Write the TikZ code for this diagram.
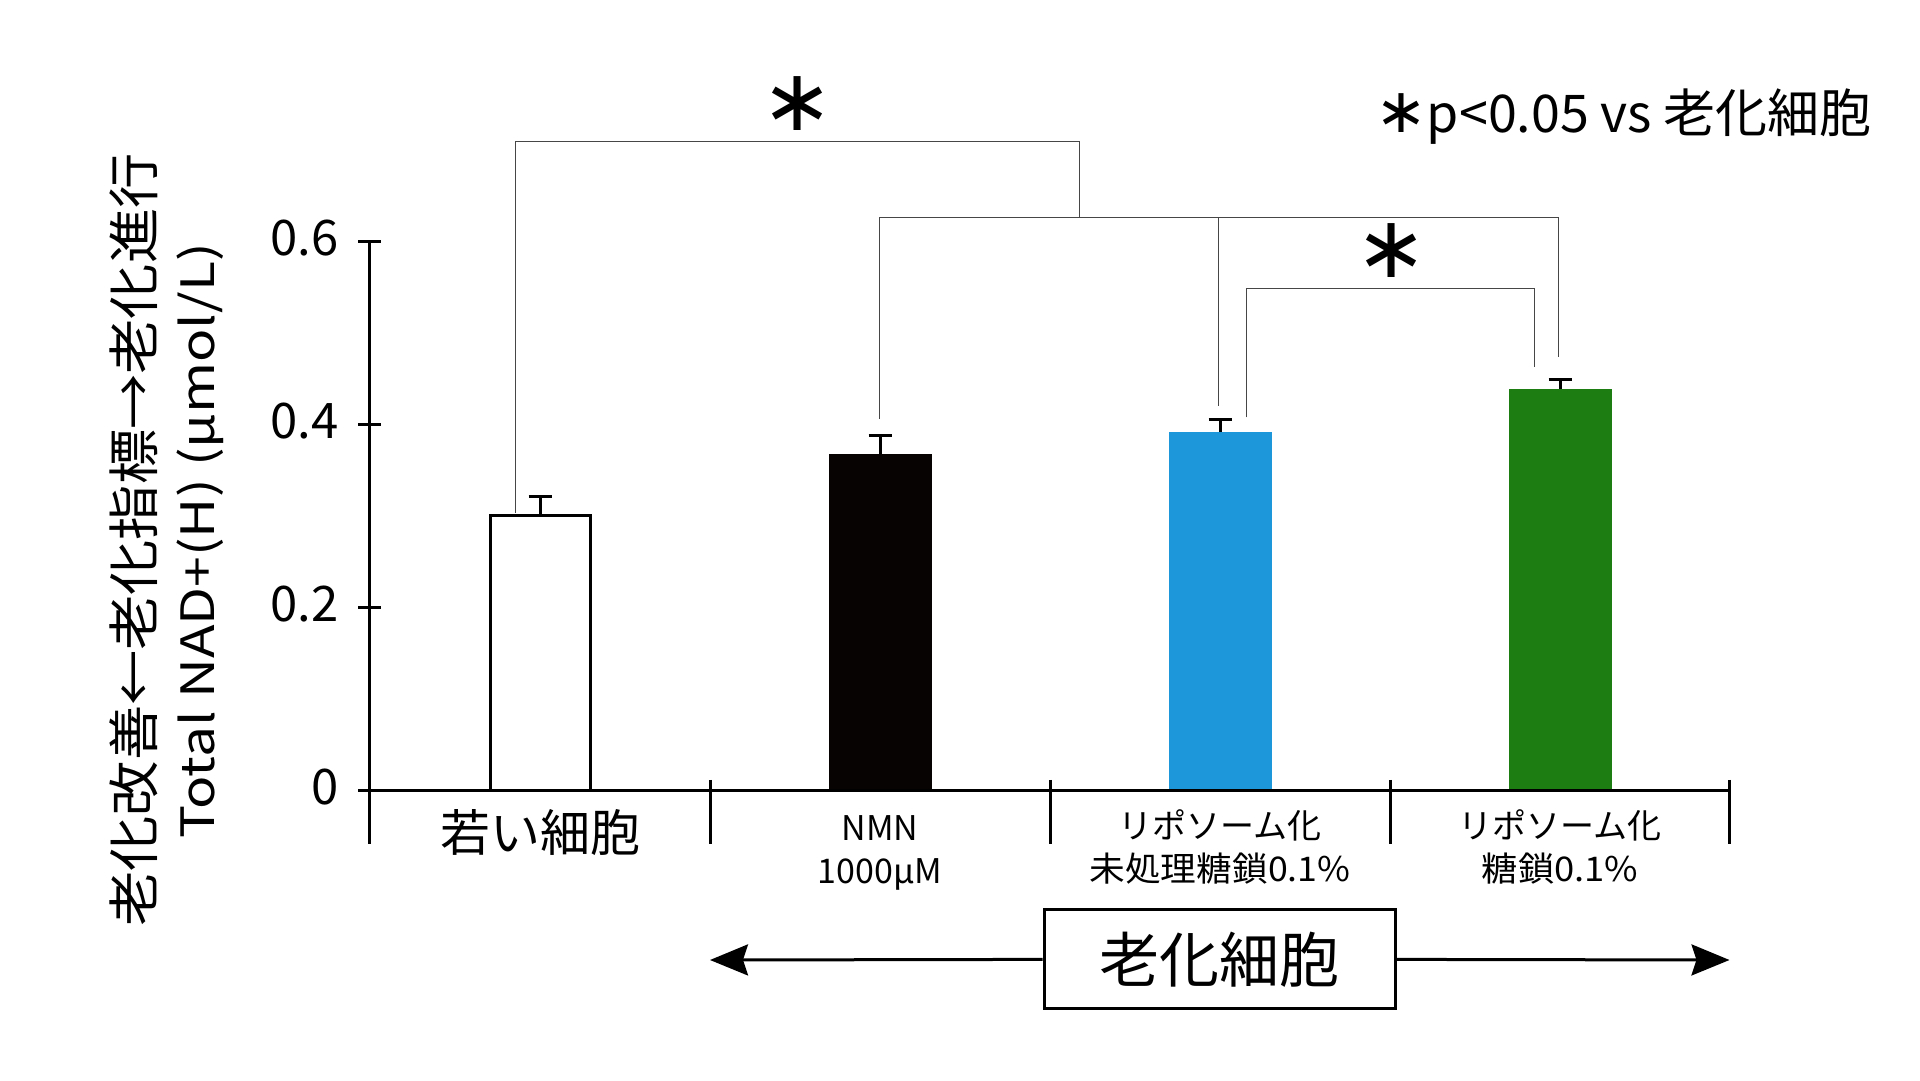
\documentclass[tikz,border=0pt]{standalone}
\usepackage{fontspec}
\setmainfont{Noto Sans CJK JP}
\newfontfamily\symfont{DejaVu Sans}
\usetikzlibrary{arrows.meta}
\definecolor{barblue}{RGB}{30,150,218}
\definecolor{bargreen}{RGB}{30,125,18}
\definecolor{barblack}{RGB}{7,3,3}
\definecolor{brk}{RGB}{70,70,70}
\tikzset{
  axis/.style={line width=3pt, black},
  errbar/.style={line width=3pt, black},
  brack/.style={line width=1.4pt, draw=brk},
  arr/.style={line width=3pt, -{Stealth[length=38pt, width=31pt, inset=5pt]}},
  fs/.style={font=\fontsize{#1}{#1}\selectfont},
  lbl/.style={inner sep=0pt, anchor=base},
  starlbl/.style={inner sep=0pt, font=\symfont\fontsize{86}{86}\selectfont},
}
\begin{document}
\begin{tikzpicture}[x=1pt,y=-1pt]
\useasboundingbox (0,0) rectangle (1920,1081);
\fill[white] (0,0) rectangle (1920,1081);

% bars
\draw[line width=3pt, fill=white] (490,515.6) rectangle (590,790.8);
\fill[barblack] (828.5,454) rectangle (931.5,790.8);
\fill[barblue] (1168.5,432.2) rectangle (1271.5,790.8);
\fill[bargreen] (1508.5,388.5) rectangle (1611.5,790.8);

% error bars
\coordinate (e1b) at (540,515.6); \coordinate (e1t) at (540,496);
\coordinate (e2b) at (880,454);   \coordinate (e2t) at (880,435.7);
\coordinate (e3b) at (1220,432.2);\coordinate (e3t) at (1220,419);
\coordinate (e4b) at (1560,388.5);\coordinate (e4t) at (1560,379.5);
\foreach \i in {1,2,3,4}{
  \draw[errbar] (e\i b) -- (e\i t);
  \draw[errbar] ([xshift=-11.5pt]e\i t) -- ([xshift=11.5pt]e\i t);
}

% axes
\coordinate (ytop) at (369,241.8);
\coordinate (ybot) at (369,843.6);
\coordinate (xl) at (358,790.8);
\coordinate (xr) at (1731,790.8);
\draw[axis] (ytop) -- (ybot);
\draw[axis] (xl) -- (xr);
\foreach \v/\y in {0/790.8, 0.2/607.8, 0.4/424.8, 0.6/241.8}{
  \draw[axis] (358,\y) -- (380.5,\y);
  \node[inner sep=0pt, anchor=east, fs=49] (t\v) at (339,\y-4) {\v};
}
\foreach \x in {710,1050,1390,1729.5}{
  \draw[axis] (\x,779.8) -- (\x,843.6);
}

% brackets
\coordinate (a1) at (515.5,512.5);
\coordinate (a2) at (515.5,141.2);
\coordinate (a3) at (1079.4,141.2);
\coordinate (a4) at (1079.4,217.7);
\draw[brack] (a1) -- (a2) -- (a3) -- (a4);
\coordinate (b1) at (879.7,418.5);
\coordinate (b2) at (879.7,217.7);
\coordinate (b3) at (1558.7,217.7);
\coordinate (b4) at (1558.7,356.5);
\coordinate (b5) at (1218.4,217.7);
\coordinate (b6) at (1218.4,406.4);
\draw[brack] (b1) -- (b2) -- (b3) -- (b4);
\draw[brack] (b5) -- (b6);
\coordinate (c1) at (1246.5,417.4);
\coordinate (c2) at (1246.5,288.3);
\coordinate (c3) at (1534.2,288.3);
\coordinate (c4) at (1534.2,366.8);
\draw[brack] (c1) -- (c2) -- (c3) -- (c4);

% stars
\node[starlbl] (star1) at (797.5,104) {∗};
\node[starlbl] (star2) at (1391.6,251) {∗};

% legend
\node[inner sep=0pt, anchor=base east, fs=52] (legend) at (1872,132) {{\symfont\fontsize{62}{62}\selectfont ∗}p<0.05 vs 老化細胞};

% y label
\node[inner sep=0pt, rotate=90, fs=52] (ylab1) at (134,540) {\scalebox{1.062}[1]{老化改善←老化指標→老化進行}};
\node[inner sep=0pt, rotate=90, fs=46] (ylab2) at (200,541) {\scalebox{1.2}[1]{Total NAD+(H) (μmol/L)}};

% category labels
\node[lbl, fs=50] (cat1a) at (540,851) {若い細胞};
\node[lbl, fs=34] (cat2a) at (880,840) {NMN};
\node[lbl, fs=34] (cat2b) at (880,883) {1000μM};
\node[lbl, fs=34] (cat3a) at (1220,838) {リポソーム化};
\node[lbl, fs=34] (cat3b) at (1220,881) {\scalebox{1.05}[1]{未処理糖鎖0.1\%}};
\node[lbl, fs=34] (cat4a) at (1560,838) {リポソーム化};
\node[lbl, fs=34] (cat4b) at (1560,881) {\scalebox{1.07}[1]{糖鎖0.1\%}};

% aged cells box and arrows
\node[draw, line width=3pt, minimum width=351pt, minimum height=99pt, inner sep=0pt, fs=60] (aged) at (1219.5,959.4) {老化細胞};
\coordinate (tipL) at (710,960);
\coordinate (tipR) at (1729.5,960);
\draw[arr] (aged.west) -- (tipL);
\draw[arr] (aged.east) -- (tipR);
\end{tikzpicture}
\end{document}
